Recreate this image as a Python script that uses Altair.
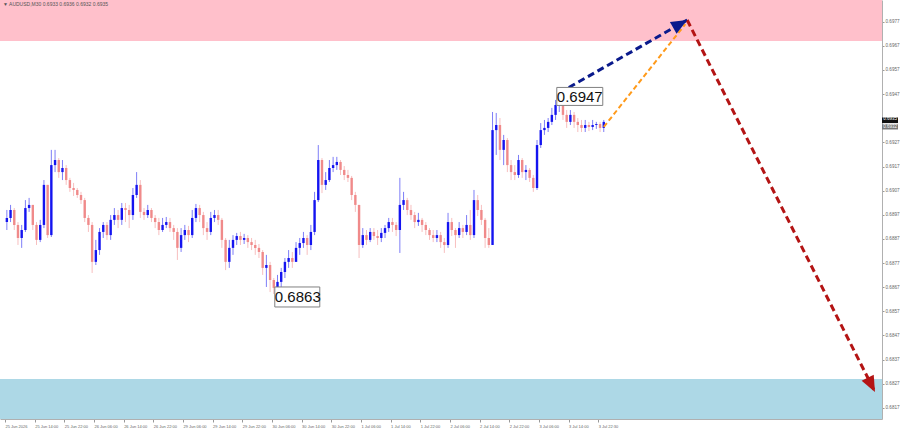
import math
import altair as alt
import pandas as pd

# ---------------- data ----------------
SYMBOL_HEADER = "\u25BC AUDUSD,M30  0.6933 0.6936 0.6932 0.6935"

first_open = 0.68940
close = [
    0.68957, 0.68990, 0.68928, 0.68874, 0.68907, 0.68998, 0.69011, 0.68928, 0.68866, 0.68928,
    0.69094, 0.68886, 0.69176, 0.69197, 0.69147, 0.69164, 0.69114, 0.69081, 0.69073, 0.69052,
    0.69031, 0.68957, 0.68928, 0.68775, 0.68824, 0.68899, 0.68928, 0.68886, 0.68949, 0.68969,
    0.68949, 0.68998, 0.68990, 0.68969, 0.69052, 0.69094, 0.68982, 0.68969, 0.68990, 0.68957,
    0.68940, 0.68907, 0.68928, 0.68940, 0.68915, 0.68899, 0.68833, 0.68886, 0.68907, 0.68886,
    0.68957, 0.68998, 0.68969, 0.68915, 0.68899, 0.68957, 0.68969, 0.68949, 0.68866, 0.68775,
    0.68833, 0.68866, 0.68882, 0.68866, 0.68874, 0.68857, 0.68845, 0.68833, 0.68816, 0.68750,
    0.68762, 0.68700, 0.68667, 0.68692, 0.68733, 0.68775, 0.68791, 0.68775, 0.68833, 0.68853,
    0.68874, 0.68845, 0.68899, 0.69031, 0.69197, 0.69094, 0.69114, 0.69164, 0.69176, 0.69189,
    0.69156, 0.69135, 0.69123, 0.69052, 0.69011, 0.68845, 0.68886, 0.68866, 0.68899, 0.68882,
    0.68874, 0.68895, 0.68915, 0.68940, 0.68928, 0.68907, 0.69011, 0.69031, 0.68990, 0.68969,
    0.68940, 0.68949, 0.68928, 0.68907, 0.68886, 0.68874, 0.68886, 0.68857, 0.68845, 0.68940,
    0.68907, 0.68886, 0.68915, 0.68899, 0.68928, 0.68886, 0.69031, 0.68990, 0.68949, 0.68874,
    0.68845, 0.69321, 0.69342, 0.69239, 0.69280, 0.69176, 0.69147, 0.69135, 0.69197, 0.69147,
    0.69156, 0.69123, 0.69081, 0.69259, 0.69321, 0.69330, 0.69355, 0.69384, 0.69425, 0.69446,
    0.69384, 0.69355, 0.69384, 0.69355, 0.69342, 0.69330, 0.69342, 0.69334, 0.69342, 0.69346,
    0.69330, 0.69355,
]
high = [
    0.68990, 0.69011, 0.68998, 0.68940, 0.68928, 0.69031, 0.69040, 0.69011, 0.68940, 0.68949,
    0.69114, 0.69094, 0.69239, 0.69239, 0.69205, 0.69197, 0.69176, 0.69123, 0.69102, 0.69081,
    0.69065, 0.69040, 0.68969, 0.68940, 0.68866, 0.68915, 0.68940, 0.68940, 0.68969, 0.68998,
    0.68990, 0.69019, 0.69019, 0.69011, 0.69081, 0.69147, 0.69114, 0.68998, 0.69011, 0.68998,
    0.68969, 0.68957, 0.68957, 0.68961, 0.68957, 0.68928, 0.68915, 0.68915, 0.68928, 0.68924,
    0.68990, 0.69015, 0.69011, 0.68982, 0.68940, 0.68982, 0.68990, 0.68990, 0.68957, 0.68874,
    0.68866, 0.68886, 0.68895, 0.68899, 0.68891, 0.68886, 0.68874, 0.68866, 0.68849, 0.68824,
    0.68804, 0.68775, 0.68708, 0.68721, 0.68750, 0.68791, 0.68824, 0.68816, 0.68857, 0.68874,
    0.68899, 0.68886, 0.68928, 0.69065, 0.69259, 0.69205, 0.69147, 0.69197, 0.69210, 0.69210,
    0.69197, 0.69172, 0.69156, 0.69131, 0.69065, 0.69011, 0.68915, 0.68907, 0.68915, 0.68915,
    0.68907, 0.68915, 0.68928, 0.68957, 0.68957, 0.68940, 0.69123, 0.69065, 0.69040, 0.69011,
    0.68982, 0.68978, 0.68957, 0.68940, 0.68915, 0.68907, 0.68907, 0.68899, 0.68874, 0.68978,
    0.68957, 0.68915, 0.68940, 0.68928, 0.68969, 0.68990, 0.69073, 0.69052, 0.69011, 0.68957,
    0.68915, 0.69396, 0.69392, 0.69371, 0.69301, 0.69288, 0.69197, 0.69176, 0.69218, 0.69205,
    0.69176, 0.69164, 0.69135, 0.69280, 0.69350, 0.69363, 0.69371, 0.69413, 0.69446, 0.69475,
    0.69454, 0.69404, 0.69404, 0.69396, 0.69371, 0.69363, 0.69363, 0.69355, 0.69363, 0.69355,
    0.69355, 0.69363,
]
low = [
    0.68907, 0.68940, 0.68907, 0.68845, 0.68833, 0.68899, 0.68982, 0.68907, 0.68845, 0.68857,
    0.68915, 0.68874, 0.68878, 0.69147, 0.69123, 0.69114, 0.69094, 0.69065, 0.69048, 0.69040,
    0.69015, 0.68940, 0.68899, 0.68729, 0.68762, 0.68804, 0.68874, 0.68866, 0.68866, 0.68928,
    0.68915, 0.68928, 0.68940, 0.68915, 0.68949, 0.69040, 0.68957, 0.68949, 0.68957, 0.68940,
    0.68915, 0.68886, 0.68899, 0.68915, 0.68899, 0.68866, 0.68783, 0.68816, 0.68866, 0.68857,
    0.68874, 0.68940, 0.68940, 0.68886, 0.68866, 0.68886, 0.68940, 0.68928, 0.68833, 0.68741,
    0.68750, 0.68804, 0.68845, 0.68845, 0.68849, 0.68833, 0.68824, 0.68804, 0.68791, 0.68721,
    0.68671, 0.68650, 0.68642, 0.68650, 0.68667, 0.68708, 0.68750, 0.68750, 0.68775, 0.68804,
    0.68833, 0.68804, 0.68824, 0.68886, 0.69023, 0.69060, 0.69073, 0.69106, 0.69147, 0.69156,
    0.69135, 0.69114, 0.69106, 0.69031, 0.68982, 0.68791, 0.68833, 0.68845, 0.68857, 0.68866,
    0.68845, 0.68857, 0.68874, 0.68899, 0.68899, 0.68882, 0.68812, 0.68990, 0.68969, 0.68949,
    0.68915, 0.68924, 0.68899, 0.68886, 0.68866, 0.68857, 0.68857, 0.68833, 0.68812, 0.68833,
    0.68882, 0.68833, 0.68874, 0.68874, 0.68886, 0.68866, 0.68874, 0.68965, 0.68928, 0.68833,
    0.68833, 0.68845, 0.69218, 0.69197, 0.69176, 0.69147, 0.69114, 0.69114, 0.69123, 0.69123,
    0.69114, 0.69106, 0.69065, 0.69073, 0.69247, 0.69301, 0.69313, 0.69342, 0.69363, 0.69396,
    0.69363, 0.69330, 0.69342, 0.69330, 0.69313, 0.69313, 0.69313, 0.69317, 0.69321, 0.69326,
    0.69313, 0.69313,
]

# time axis (index in M30 bars), one label every 16 bars
time_labels = [
    "25 Jun 2026", "25 Jun 14:00", "25 Jun 22:00", "26 Jun 06:00", "26 Jun 14:00",
    "26 Jun 22:00", "29 Jun 06:00", "29 Jun 14:00", "29 Jun 22:00", "30 Jun 06:00",
    "30 Jun 14:00", "30 Jun 22:00", "1 Jul 06:00", "1 Jul 14:00", "1 Jul 22:00",
    "2 Jul 06:00", "2 Jul 14:00", "2 Jul 22:00", "3 Jul 06:00", "3 Jul 14:00", "3 Jul 22:30",
]
label_step = 16
# 0.6937 sits under the bid boxes on the price scale
price_ticks = [0.6977, 0.6967, 0.6957, 0.6947, 0.6927, 0.6917, 0.6907, 0.6897,
               0.6887, 0.6877, 0.6867, 0.6857, 0.6847, 0.6837, 0.6827, 0.6817]

x_range = [0, 470.4]
y_range = [0.68124, 0.69860]

sell_zone = [0.69690, 0.69860]
buy_zone = [0.68124, 0.68290]

# forecast wave (main) and the expected pull-back
wave_t = [299, 368, 469.3]
wave_p = [0.69475, 0.69777, 0.68236]
pull_t = [323, 367]
pull_p = [0.69334, 0.69760]

# extreme marks
mark_text = ["0.6947", "0.6863"]
mark_t = [299, 145]
mark_p = [0.69475, 0.68642]

bid_labels = ["0.6935", "0.6932"]

# ---------------- styling ----------------
W, H = 882, 419
BULL = "#1414f0"
BEAR = "#f08a8a"
NAVY = "#0a1a8c"
RED = "#b41414"
ORANGE = "#ff9a1a"

xscale = alt.Scale(domain=x_range, nice=False, zero=False)
yscale = alt.Scale(domain=y_range, nice=False, zero=False)

label_js = "[" + ",".join("'" + s + "'" for s in time_labels) + "]"
xaxis = alt.Axis(
    values=[i * label_step for i in range(len(time_labels))],
    labelExpr=label_js + "[round(datum.value/" + str(label_step) + ")]",
    labelAlign="left", labelPadding=2, labelFontSize=4, labelColor="#666666",
    labelFont="Liberation Sans", labelOverlap=False, labelFlush=False,
    tickSize=3, tickColor="#999999", domainColor="#b0b0b0", grid=False, title=None,
)
yaxis = alt.Axis(
    orient="right", values=price_ticks, format=".4f",
    labelFontSize=4.6, labelColor="#666666", labelFont="Liberation Sans", labelPadding=1,
    labelOverlap=False, labelFlush=False,
    tickSize=2, tickColor="#999999", domainColor="#b0b0b0", grid=False, title=None,
)


def X(field):
    return alt.X(field + ":Q", scale=xscale, axis=xaxis)


def Y(field):
    return alt.Y(field + ":Q", scale=yscale, axis=yaxis)


# ---------------- frames ----------------
n = len(close)
opens = [first_open] + close[:-1]
candles = pd.DataFrame({
    "t": [2 * i + 1 for i in range(n)],
    "open": opens, "close": close, "high": high, "low": low,
})

zones_sell = pd.DataFrame({"lo": [sell_zone[0]], "hi": [sell_zone[1]]})
zones_buy = pd.DataFrame({"lo": [buy_zone[0]], "hi": [buy_zone[1]]})

wave_a = pd.DataFrame({"t": wave_t[:2], "p": wave_p[:2]})
wave_b = pd.DataFrame({"t": wave_t[1:], "p": wave_p[1:]})
pull = pd.DataFrame({"t": pull_t, "p": pull_p})

sx = W / (x_range[1] - x_range[0])
sy = H / (y_range[1] - y_range[0])


def head_angle(t0, p0, t1, p1):
    dx = (t1 - t0) * sx
    dy = -(p1 - p0) * sy
    return math.degrees(math.atan2(dx, -dy)) % 360


heads = pd.DataFrame({
    "t": [wave_t[1], wave_t[2]],
    "p": [wave_p[1], wave_p[2]],
    "ang": [head_angle(wave_t[0], wave_p[0], wave_t[1], wave_p[1]),
            head_angle(wave_t[1], wave_p[1], wave_t[2], wave_p[2])],
    "col": [NAVY, RED],
})

marks_df = pd.DataFrame({"t": mark_t, "p": mark_p, "txt": mark_text})
last_df = pd.DataFrame({"t": [candles["t"].iloc[-1]], "p": [close[-1]]})

# ---------------- layers ----------------
bull_cond = alt.condition("datum.close >= datum.open", alt.value(BULL), alt.value(BEAR))

sell_band = alt.Chart(zones_sell).mark_rect(color="#ffc0cb").encode(
    x=alt.value(0), x2=alt.value(W), y=Y("lo"), y2=alt.Y2("hi"))
buy_band = alt.Chart(zones_buy).mark_rect(color="#add8e6").encode(
    x=alt.value(0), x2=alt.value(W), y=Y("lo"), y2=alt.Y2("hi"))

wicks = alt.Chart(candles).mark_rule(strokeWidth=1, opacity=0.55).encode(
    x=X("t"), y=Y("low"), y2=alt.Y2("high"), color=bull_cond)
bodies = alt.Chart(candles).mark_bar(size=2.4).encode(
    x=X("t"), y=Y("open"), y2=alt.Y2("close"), color=bull_cond)

line_a = alt.Chart(wave_a).mark_line(color=NAVY, strokeWidth=3, strokeDash=[7, 4]).encode(
    x=X("t"), y=Y("p"))
line_b = alt.Chart(wave_b).mark_line(color=RED, strokeWidth=3, strokeDash=[7, 4]).encode(
    x=X("t"), y=Y("p"))
line_pull = alt.Chart(pull).mark_line(color=ORANGE, strokeWidth=2, strokeDash=[5, 3]).encode(
    x=X("t"), y=Y("p"))

ARROW = "M0,0 L0.85,2 L-0.85,2 Z"
arrow_layers = []
for _, r in heads.iterrows():
    arrow_layers.append(
        alt.Chart(pd.DataFrame([r])).mark_point(
            shape=ARROW, filled=True, size=256, opacity=1, angle=float(r["ang"]),
            color=r["col"], strokeWidth=0,
        ).encode(x=X("t"), y=Y("p"))
    )

box_hi = alt.Chart(marks_df.iloc[[0]]).mark_point(
    shape="M-0.1,-0.22 L1.74,-0.22 L1.74,0.5 L-0.1,0.5 Z", size=2500, filled=True,
    fill="white", fillOpacity=1, opacity=1, stroke="#808080", strokeWidth=1,
).encode(x=X("t"), y=Y("p"))
box_lo = alt.Chart(marks_df.iloc[[1]]).mark_point(
    shape="M0.04,-0.28 L1.84,-0.28 L1.84,0.52 L0.04,0.52 Z", size=2500, filled=True,
    fill="white", fillOpacity=1, opacity=1, stroke="#808080", strokeWidth=1,
).encode(x=X("t"), y=Y("p"))
txt_hi = alt.Chart(marks_df.iloc[[0]]).mark_text(
    align="center", baseline="middle", dx=20.5, dy=4, fontSize=15, font="Liberation Sans",
    color="#111111",
).encode(x=X("t"), y=Y("p"), text="txt:N")
txt_lo = alt.Chart(marks_df.iloc[[1]]).mark_text(
    align="center", baseline="middle", dx=24, dy=3.5, fontSize=15, font="Liberation Sans",
    color="#111111",
).encode(x=X("t"), y=Y("p"), text="txt:N")

bid_box = alt.Chart(last_df).mark_point(
    shape="M-1,-0.55 L1,-0.55 L1,0.15 L-1,0.15 Z", size=256, filled=True,
    fill="#111111", opacity=1, strokeWidth=0,
).encode(x=alt.value(W + 8), y=Y("p"))
bid2_box = alt.Chart(last_df).mark_point(
    shape="M-1,0.3 L1,0.3 L1,0.95 L-1,0.95 Z", size=256, filled=True,
    fill="#777777", opacity=1, strokeWidth=0,
).encode(x=alt.value(W + 8), y=Y("p"))
bid_txt = alt.Chart(last_df).mark_text(
    fontSize=4.5, color="white", dy=-3.2, font="Liberation Sans",
).encode(x=alt.value(W + 8), y=Y("p"), text=alt.value(bid_labels[0]))
bid2_txt = alt.Chart(last_df).mark_text(
    fontSize=4.5, color="white", dy=5, font="Liberation Sans",
).encode(x=alt.value(W + 8), y=Y("p"), text=alt.value(bid_labels[1]))

header = alt.Chart(last_df).mark_text(
    align="left", baseline="middle", fontSize=5, color="#555555", font="Liberation Sans",
).encode(x=alt.value(3), y=alt.value(4), text=alt.value(SYMBOL_HEADER))

chart = alt.layer(
    sell_band, buy_band, wicks, bodies, line_pull, line_a, line_b, *arrow_layers,
    box_hi, box_lo, txt_hi, txt_lo, bid_box, bid2_box, bid_txt, bid2_txt, header,
).properties(
    width=W, height=H,
    autosize=alt.AutoSizeParams(type="none"),
    padding={"left": 0, "top": 0, "right": 18, "bottom": 12},
    background="white",
).configure_view(stroke=None)

chart.save("out.html", embed_options={"renderer": "svg", "actions": False})
